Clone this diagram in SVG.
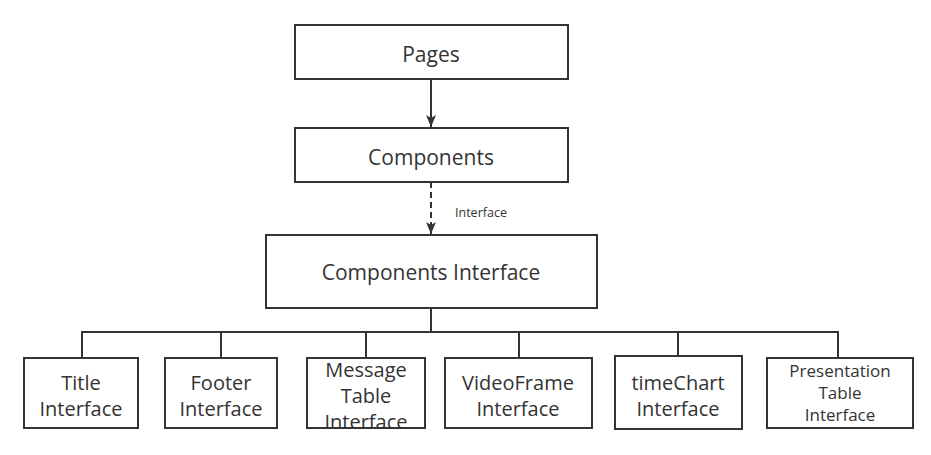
<svg xmlns="http://www.w3.org/2000/svg" width="931" height="455" viewBox="0 0 931 455">
<style>
.box{fill:#fff;stroke:#333;stroke-width:2}
.t{font-family:"Open Sans","Noto Sans",sans-serif;fill:#333;text-anchor:middle}
.big{font-size:21px}
.mid{font-size:20px}
.sm{font-size:17px}
.lab{font-size:12.5px;text-anchor:start}
.ln{fill:none;stroke:#333;stroke-width:2}
</style>
<defs>
<marker id="ah" viewBox="0 0 12 10" refX="12" refY="5" markerWidth="12" markerHeight="10" markerUnits="userSpaceOnUse" orient="auto">
<path d="M0,0 L12,5 L0,10 L3,5 Z" fill="#333"/>
</marker>
</defs>
<rect width="931" height="455" fill="#fff"/>
<g id="connectors">
<path class="ln" d="M431,79 V127" marker-end="url(#ah)"/>
<path class="ln" d="M431,182 V234" stroke-dasharray="6,4" marker-end="url(#ah)"/>
<text class="t lab" x="455" y="217">Interface</text>
<path class="ln" d="M431,308 V332"/>
<path class="ln" d="M82,358 V332 H838 V358"/>
<path class="ln" d="M221,332 V358 M366,332 V358 M519,332 V358 M678,332 V356"/>
</g>
<g id="pages"><rect class="box" x="295" y="25" width="273" height="54"/><text class="t big" x="431" y="62">Pages</text></g>
<g id="components"><rect class="box" x="295" y="128" width="273" height="54"/><text class="t big" x="431" y="165">Components</text></g>
<g id="components-interface"><rect class="box" x="266" y="235" width="331" height="73"/><text class="t big" x="431" y="280">Components Interface</text></g>
<g id="title-interface"><rect class="box" x="24" y="358" width="114" height="70"/><text class="t mid" x="81" y="390">Title</text><text class="t mid" x="81" y="416">Interface</text></g>
<g id="footer-interface"><rect class="box" x="165" y="358" width="112" height="70"/><text class="t mid" x="221" y="390">Footer</text><text class="t mid" x="221" y="416">Interface</text></g>
<g id="message-table-interface"><rect class="box" x="307" y="358" width="118" height="70"/><text class="t mid" x="366" y="377">Message</text><text class="t mid" x="366" y="403">Table</text><text class="t mid" x="366" y="429">Interface</text><path d="M307,428 H425" stroke="#333" stroke-width="2"/><rect x="300" y="429.5" width="132" height="20" fill="#fff"/></g>
<g id="videoframe-interface"><rect class="box" x="445" y="358" width="147" height="70"/><text class="t mid" x="518" y="390">VideoFrame</text><text class="t mid" x="518" y="416">Interface</text></g>
<g id="timechart-interface"><rect class="box" x="615" y="356" width="127" height="73" stroke-width="2.5"/><text class="t mid" x="678" y="390">timeChart</text><text class="t mid" x="678" y="416">Interface</text></g>
<g id="presentation-table-interface"><rect class="box" x="767" y="358" width="146" height="70"/><text class="t sm" x="840" y="377">Presentation</text><text class="t sm" x="840" y="399">Table</text><text class="t sm" x="840" y="421">Interface</text></g>
</svg>
